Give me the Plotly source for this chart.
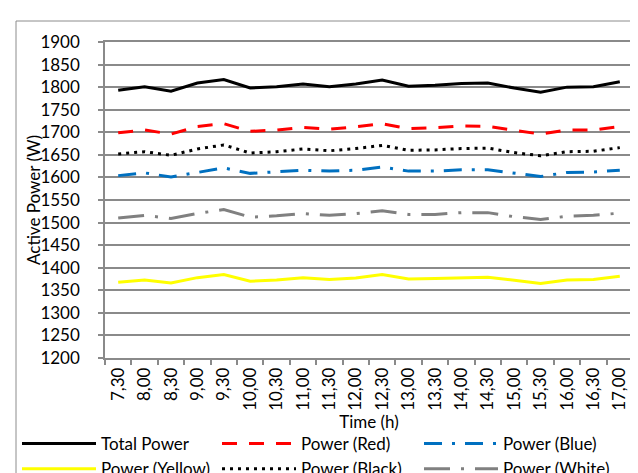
import plotly.graph_objects as go

times = ["7,30", "8,00", "8,30", "9,00", "9,30", "10,00", "10,30", "11,00", "11,30", "12,00",
         "12,30", "13,00", "13,30", "14,00", "14,30", "15,00", "15,30", "16,00", "16,30", "17,00"]

total_power = [1793, 1801, 1791, 1809, 1817, 1798, 1801, 1807, 1801, 1807,
               1816, 1802, 1804, 1808, 1809, 1798, 1789, 1800, 1801, 1812]
power_red = [1699, 1705, 1696, 1713, 1719, 1702, 1705, 1711, 1707, 1712,
             1719, 1708, 1710, 1714, 1713, 1704, 1696, 1705, 1705, 1713]
power_blue = [1604, 1610, 1601, 1611, 1621, 1609, 1612, 1616, 1614, 1616,
              1623, 1614, 1614, 1617, 1617, 1609, 1602, 1611, 1612, 1616]
power_yellow = [1368, 1373, 1366, 1378, 1385, 1370, 1373, 1378, 1374, 1377,
                1385, 1375, 1376, 1378, 1379, 1372, 1365, 1373, 1374, 1381]
power_black = [1652, 1657, 1649, 1663, 1672, 1654, 1657, 1663, 1659, 1664,
               1671, 1660, 1661, 1664, 1665, 1655, 1648, 1657, 1658, 1666]
power_white = [1510, 1516, 1509, 1520, 1529, 1512, 1515, 1520, 1516, 1520,
               1526, 1518, 1518, 1522, 1522, 1513, 1507, 1514, 1516, 1521]

y_title = "Active Power (W)"
x_title = "Time (h)"

# name, values, colour, dash, legend column
series = [
    ("Total Power", total_power, "#000000", "solid", "legend"),
    ("Power (Red)", power_red, "#FF0000", "15px,12px", "legend2"),
    ("Power (Blue)", power_blue, "#0070C0", "18px,10px,3px,10px", "legend3"),
    ("Power (Yellow)", power_yellow, "#FFFF00", "solid", "legend"),
    ("Power (Black)", power_black, "#000000", "3px,5px", "legend2"),
    ("Power (White)", power_white, "#808080", "26px,11px,3px,11px", "legend3"),
]

FONT = "Lato"
FS = 17
GRID = "#8a8a8a"
W, H = 638, 473

fig = go.Figure()
for name, vals, color, dash, lg in series:
    fig.add_trace(go.Scatter(
        x=times, y=vals, name=name, mode="lines", legend=lg,
        line=dict(color=color, width=3, dash=dash),
    ))


def legend_at(px_x, px_top):
    return dict(
        orientation="v", xref="container", yref="container",
        x=px_x / W, xanchor="left", y=1 - px_top / H, yanchor="top",
        itemwidth=74, font=dict(family=FONT, size=FS),
        bgcolor="rgba(0,0,0,0)", tracegroupgap=0, traceorder="normal",
    )


fig.update_layout(
    width=W, height=H,
    margin=dict(l=97, r=13, t=34, b=123, autoexpand=False),
    paper_bgcolor="white", plot_bgcolor="white",
    font=dict(family=FONT, size=FS, color="#000000"),
    showlegend=True,
    legend=legend_at(9, 418),
    legend2=legend_at(209, 418),
    legend3=legend_at(411, 418),
    xaxis=dict(
        type="category", range=[-0.5, 19.5],
        showline=True, linecolor=GRID, linewidth=1.5, mirror=True,
        showgrid=False, ticks="outside", ticklen=5, tickcolor=GRID, tickwidth=1.5,
        tickson="boundaries", tickangle=-90, tickfont=dict(size=FS),
        ticklabelstandoff=1,
        title=dict(text=x_title, font=dict(size=FS), standoff=6),
        automargin=False,
    ),
    yaxis=dict(
        range=[1200, 1900], dtick=50, tick0=1200,
        showline=True, linecolor=GRID, linewidth=1.5, mirror=True,
        showgrid=True, gridcolor=GRID, gridwidth=1.5,
        ticks="outside", ticklen=5, tickcolor=GRID, tickwidth=1.5,
        tickfont=dict(size=FS), ticklabelstandoff=15,
        automargin=False, zeroline=False,
    ),
)

# y-axis title as a rotated text beside the tick labels
fig.add_annotation(
    text=y_title, xref="paper", yref="paper",
    x=(25 - 97) / 528, y=0.5, xanchor="center", yanchor="middle",
    textangle=-90, showarrow=False, font=dict(family=FONT, size=FS, color="#000000"),
)

fig.add_shape(type="rect", xref="paper", yref="paper",
              x0=(8 - 97) / 528, x1=(645 - 97) / 528,
              y0=(350 - 480) / 316, y1=(350 - 13) / 316,
              line=dict(color="#8c8c8c", width=1), fillcolor="rgba(0,0,0,0)",
              layer="below")

fig.write_html("out.html")
